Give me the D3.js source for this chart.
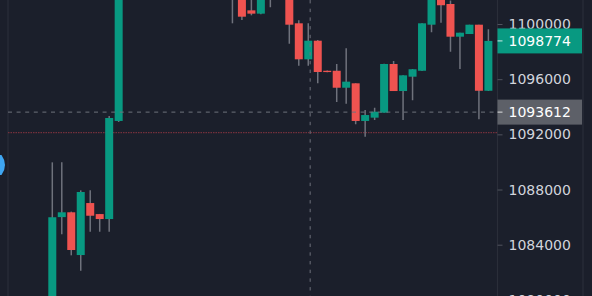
<!DOCTYPE html>
<html><head><meta charset="utf-8">
<script src="https://cdn.jsdelivr.net/npm/d3@7/dist/d3.min.js"></script>
<style>
html,body{margin:0;padding:0;background:#1b1f2b;overflow:hidden;}
svg{display:block;}
</style></head>
<body>
<svg id="c" width="592" height="296"></svg>
<script>
// ---- data ----
const opens  = [1079300,1086000,1086350,1083250,1087020,1086220,1085860,1092970,
  1103500,1104300,1105100,1104200,1105800,1106500,1105300,1104500,1104900,1103700,1104100,
  1103200,1102600,1100990,1100750,1102100,1102500,1103000,1100050,1097440,1098790,1096610,
  1096610,1095380,1095700,1092970,1093210,1093570,1097100,1095140,1096180,1096610,1099950,
  1102300,1101450,1099080,1099275,1099950,1095160];
const highs  = [1089970,1089970,1086400,1087940,1087940,1086230,1093330,1104000,
  1104800,1105600,1105500,1106200,1106900,1106800,1105900,1105200,1105400,1104600,1104400,
  1103700,1102900,1102000,1102500,1103000,1103400,1103300,1100270,1100050,1098840,1096620,
  1097100,1098240,1095710,1093760,1093930,1097110,1097320,1096290,1096730,1100060,1102500,
  1102800,1101700,1099370,1099950,1099950,1099620];
const lows   = [1079000,1084750,1083230,1082110,1084940,1084940,1084940,1092900,
  1103000,1103900,1103800,1104000,1105200,1105000,1104100,1103600,1103400,1102900,1102800,
  1100050,1100290,1100630,1100700,1101210,1101900,1098570,1096980,1096980,1095700,1096510,
  1094340,1094220,1092730,1091830,1093040,1093560,1095140,1093040,1094470,1096600,1099400,
  1100090,1097990,1096740,1099270,1093090,1095150];
const closes = [1085990,1086350,1083615,1087820,1086100,1085860,1093185,1103500,
  1104300,1105100,1104200,1105800,1106500,1105300,1104500,1104900,1103700,1104100,1103200,
  1102600,1100530,1100750,1102100,1102500,1103000,1099950,1097440,1098790,1096520,1096520,
  1095380,1095820,1092970,1093400,1093640,1097100,1095140,1096280,1096720,1100050,1102000,
  1101360,1099080,1099370,1099950,1095160,1098774];
const tickValues = [1080000,1084000,1088000,1092000,1096000,1100000];
const lastPrice = 1098774;
const crosshairPrice = 1093612;
const crosshairIndex = 27.2;
const alertPrice = 1092120;

// ---- layout ----
const W = 592, H = 296;
const plotLeft = 8, plotRight = 497.5, scaleRight = 583;
const colUp = "#089981", colDown = "#ef5350";

const svg = d3.select("#c");
svg.append("rect").attr("width", W).attr("height", H).attr("fill", "#1b1f2b");

const x = d3.scaleLinear().domain([0, opens.length - 1]).range([52.3, 488.4]);
const y = d3.scaleLinear().domain([1084000, 1100000]).range([244.7, 24]);
const bodyW = 8;

svg.append("defs").append("clipPath").attr("id", "plot")
  .append("rect").attr("x", plotLeft).attr("y", 0).attr("width", plotRight - plotLeft).attr("height", H);

// borders
svg.append("line").attr("x1", plotLeft).attr("x2", plotLeft).attr("y1", 0).attr("y2", H)
  .attr("stroke", "#2a2e39").attr("stroke-width", 1.2);
svg.append("line").attr("x1", plotRight).attr("x2", plotRight).attr("y1", 0).attr("y2", H)
  .attr("stroke", "#2a2e39").attr("stroke-width", 1.2);
svg.append("line").attr("x1", scaleRight).attr("x2", scaleRight).attr("y1", 0).attr("y2", H)
  .attr("stroke", "#2a2e39").attr("stroke-width", 1.2);

const g = svg.append("g").attr("clip-path", "url(#plot)");

// alert line (red dotted)
g.append("line").attr("x1", plotLeft).attr("x2", plotRight)
  .attr("y1", y(alertPrice)).attr("y2", y(alertPrice))
  .attr("stroke", "#8a3440").attr("stroke-width", 1).attr("stroke-dasharray", "1.5,1");

const idx = d3.range(opens.length);
// wicks
g.selectAll("line.wick").data(idx).join("line").attr("class", "wick")
  .attr("x1", i => x(i)).attr("x2", i => x(i))
  .attr("y1", i => y(highs[i])).attr("y2", i => y(lows[i]))
  .attr("stroke", "#6f727c").attr("stroke-width", 1.5);
// bodies
g.selectAll("rect.body").data(idx).join("rect").attr("class", "body")
  .attr("x", i => x(i) - bodyW / 2).attr("width", bodyW)
  .attr("y", i => y(Math.max(opens[i], closes[i])))
  .attr("height", i => Math.max(1.3, Math.abs(y(opens[i]) - y(closes[i]))))
  .attr("fill", i => closes[i] >= opens[i] ? colUp : colDown);

// crosshair
g.append("line").attr("x1", plotLeft).attr("x2", plotRight)
  .attr("y1", y(crosshairPrice)).attr("y2", y(crosshairPrice))
  .attr("stroke", "#6e717b").attr("stroke-width", 1).attr("stroke-dasharray", "4,4.6");
g.append("line").attr("x1", x(crosshairIndex)).attr("x2", x(crosshairIndex))
  .attr("y1", 0).attr("y2", H)
  .attr("stroke", "#6e717b").attr("stroke-width", 1).attr("stroke-dasharray", "3.4,5.3");

// price axis
const axis = d3.axisRight(y).tickValues(tickValues).tickSize(5).tickPadding(6)
  .tickFormat(d3.format("d"));
const ag = svg.append("g").attr("transform", `translate(${plotRight},0)`).call(axis);
ag.select(".domain").remove();
ag.selectAll(".tick line").attr("stroke", "#50535e");
ag.selectAll(".tick text").attr("fill", "#d1d4dc")
  .style("font-family", "DejaVu Sans").style("font-size", "14px");

// price labels
function priceLabel(p, bg) {
  const yy = y(p);
  svg.append("rect").attr("x", plotRight).attr("y", yy - 12.5).attr("width", 84.5).attr("height", 25)
    .attr("fill", bg);
  svg.append("line").attr("x1", plotRight).attr("x2", plotRight + 5).attr("y1", yy).attr("y2", yy)
    .attr("stroke", "#ffffff").attr("stroke-opacity", 0.8);
  svg.append("text").attr("x", plotRight + 11).attr("y", yy).attr("dy", "0.36em")
    .attr("fill", "#ffffff").style("font-family", "DejaVu Sans").style("font-size", "14px")
    .text(d3.format("d")(p));
}
priceLabel(lastPrice, colUp);
priceLabel(crosshairPrice, "#5d6068");

// left blue marker
svg.append("path").attr("d", "M0,155 L1.5,155 Q5,160 5,165 Q5,170 1.5,175 L0,175 Z").attr("fill", "#3fa6f2");
</script>
</body></html>
